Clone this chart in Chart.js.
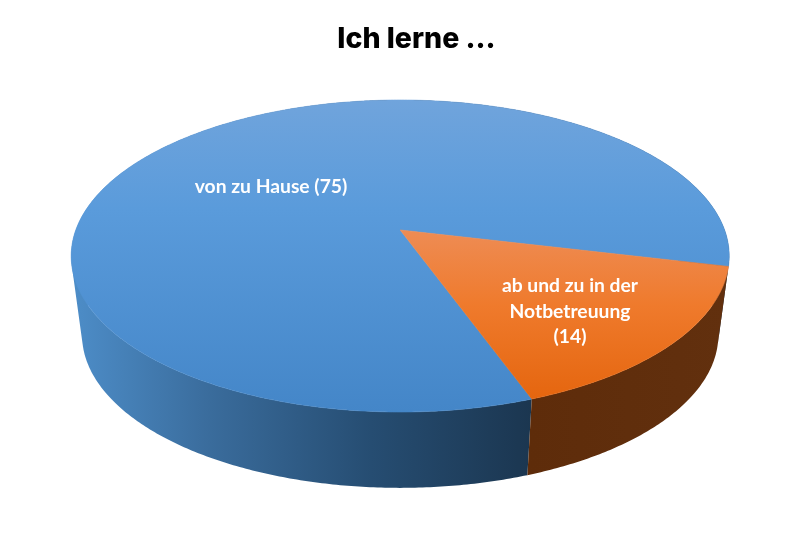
<!DOCTYPE html>
<html lang="de">
<head>
    <meta charset="UTF-8">
    <title>Ich lerne ...</title>
    <script src="https://cdn.jsdelivr.net/npm/chart.js"></script>
    <style>
        html, body { margin: 0; padding: 0; background: #fff; }
        canvas { display: block; }
    </style>
</head>
<body>
    <canvas id="myChart" width="800" height="553"></canvas>
    <script>
        const chartTitle = 'Ich lerne ...';
        const categories = ['von zu Hause', 'ab und zu in der Notbetreuung'];
        const values = [75, 14];
        const sliceLabels = [['von zu Hause (75)'], ['ab und zu in der', 'Notbetreuung', '(14)']];

        // the pie is tilted in perspective, so its centre sits above the middle of the ellipse
        function project(angle) {
            const u = Math.cos(angle), v = Math.sin(angle);
            const w = 1 - v / 6;
            return { x: 400.2 + 324.4 * u / w, y: 230 + 151.67 * v / w };
        }

        // bottom rim of the cylinder: same outline, slightly smaller and lower
        function projectLow(angle) {
            const p = project(angle);
            return { x: 400 + (p.x - 400) * 0.967, y: 335 + (p.y - 256) * 0.98 };
        }

        function arcPoints(fn, start, end) {
            const pts = [];
            const steps = Math.ceil((end - start) / 0.01);
            for (let i = 0; i <= steps; i++) {
                pts.push(fn(start + (end - start) * i / steps));
            }
            return pts;
        }

        function gradient(ctx, x0, y0, x1, y1, stops) {
            const g = ctx.createLinearGradient(x0, y0, x1, y1);
            stops.forEach(s => g.addColorStop(s[0], s[1]));
            return g;
        }

        // wall = one small quad per arc step, all wound the same way so they merge without seams
        function wallPath(ctx, top, low) {
            ctx.beginPath();
            for (let i = 0; i < top.length - 1; i++) {
                let quad = [top[i], top[i + 1], low[i + 1], low[i]];
                let area = 0;
                quad.forEach((p, k) => {
                    const q = quad[(k + 1) % 4];
                    area += p.x * q.y - q.x * p.y;
                });
                if (area < 0) quad = quad.reverse();
                quad.forEach((p, k) => k ? ctx.lineTo(p.x, p.y) : ctx.moveTo(p.x, p.y));
                ctx.closePath();
            }
        }

        const pie3d = {
            id: 'pie3d',
            beforeDatasetDraw(chart) {
                const ctx = chart.ctx;
                const arcs = chart.getDatasetMeta(0).data;
                const walls = [
                    gradient(ctx, 72, 0, 532, 0, [[0, '#4d8dc8'], [0.3, '#3a6c9c'], [0.65, '#264d72'], [1, '#1b3650']]),
                    gradient(ctx, 530, 0, 728, 0, [[0, '#5e2c0a'], [1, '#62300e']])
                ];
                const tops = [
                    gradient(ctx, 0, 100, 0, 412, [[0, '#70a4dc'], [0.35, '#5a9bdb'], [1, '#4486c8']]),
                    gradient(ctx, 0, 230, 0, 398, [[0, '#ee8c54'], [0.45, '#ef7a2c'], [1, '#e5660f']])
                ];

                arcs.forEach((arc, i) => {
                    wallPath(ctx, arcPoints(project, arc.startAngle, arc.endAngle),
                        arcPoints(projectLow, arc.startAngle, arc.endAngle));
                    ctx.fillStyle = walls[i];
                    ctx.fill();
                });

                arcs.forEach((arc, i) => {
                    ctx.beginPath();
                    ctx.moveTo(400.2, 230);
                    arcPoints(project, arc.startAngle, arc.endAngle).forEach(p => ctx.lineTo(p.x, p.y));
                    ctx.closePath();
                    ctx.fillStyle = tops[i];
                    ctx.fill();
                    // closes the light hairline between the two slices
                    ctx.strokeStyle = tops[i];
                    ctx.lineWidth = 0.6;
                    ctx.stroke();
                });

                // slice captions
                const anchors = [{ x: 271, y: 187 }, { x: 570, y: 286 }];
                ctx.save();
                ctx.fillStyle = '#fff';
                ctx.font = 'bold 19.3px Lato';
                ctx.textAlign = 'center';
                ctx.textBaseline = 'middle';
                sliceLabels.forEach((lines, i) => {
                    lines.forEach((line, k) => ctx.fillText(line, anchors[i].x, anchors[i].y + k * 25.5));
                });
                ctx.restore();
                return false;
            }
        };

        new Chart(document.getElementById('myChart'), {
            type: 'pie',
            data: {
                labels: categories,
                datasets: [{
                    data: values,
                    backgroundColor: ['#5b9bd5', '#ed7d31'],
                    borderWidth: 0
                }]
            },
            options: {
                responsive: false,
                animation: false,
                rotation: 160,
                layout: { padding: { left: 33 } },
                plugins: {
                    legend: { display: false },
                    tooltip: { enabled: false },
                    title: {
                        display: true,
                        text: chartTitle,
                        color: '#000',
                        font: { family: 'Inter', size: 28.5, weight: '800' },
                        padding: { top: 22, bottom: 10 }
                    }
                }
            },
            plugins: [pie3d]
        });
    </script>
</body>
</html>
